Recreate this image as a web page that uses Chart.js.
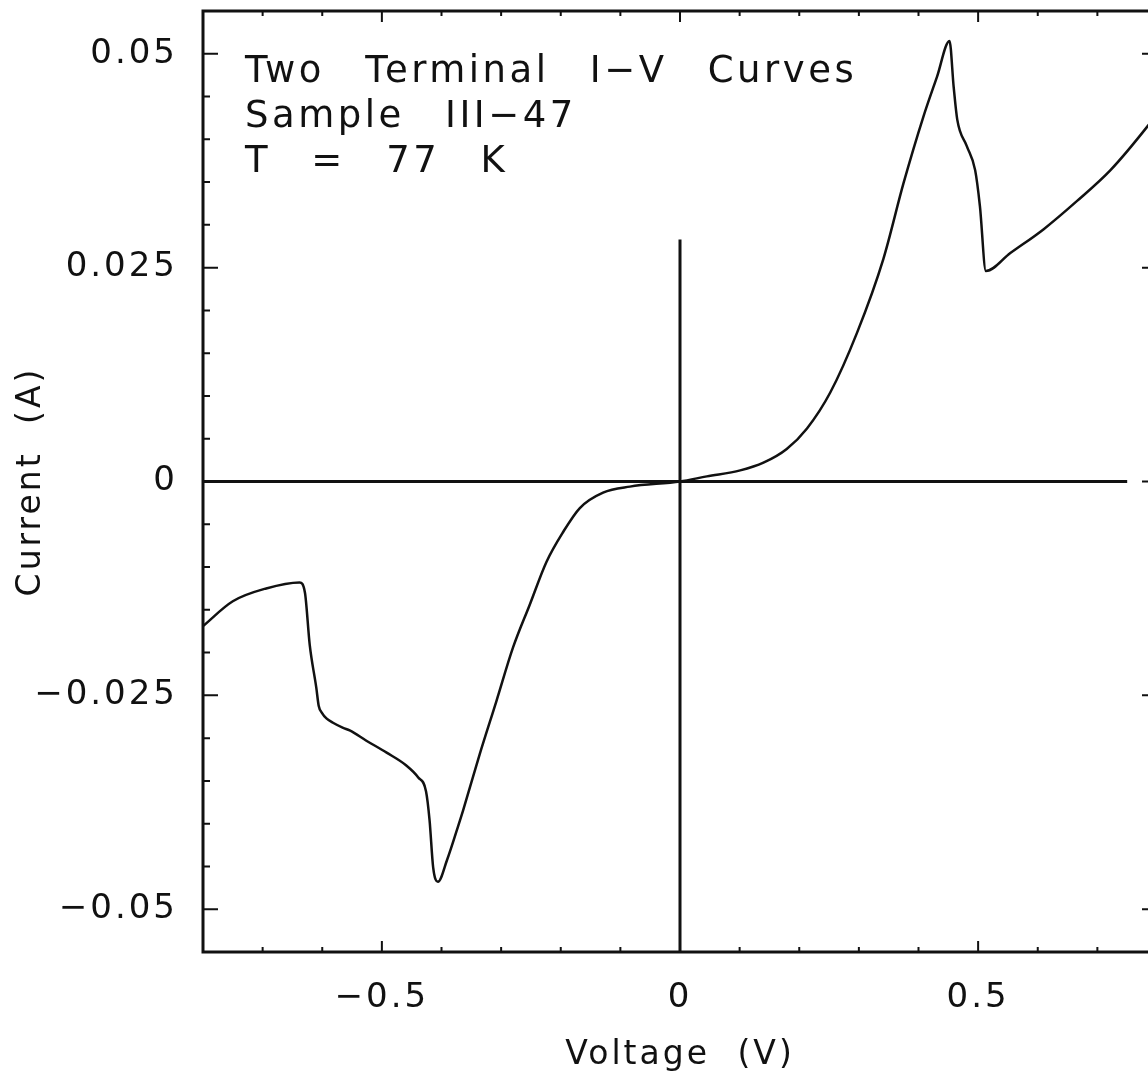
<!DOCTYPE html>
<html>
<head>
<meta charset="utf-8">
<title>Two Terminal I−V Curves</title>
<script src="https://cdn.jsdelivr.net/npm/chart.js@4.4.0/dist/chart.umd.min.js"></script>
<style>
  html, body { margin: 0; padding: 0; background: #fff; overflow: hidden; }
  #wrap { position: relative; width: 1165px; height: 1088px; }
</style>
</head>
<body>
<div id="wrap"><canvas id="ivChart"></canvas></div>
<script>
// I-V sweep for sample III-47 at 77 K
const voltage = [
  -0.800, -0.750, -0.694, -0.638, -0.629, -0.621, -0.610, -0.606, -0.600, -0.593,
  -0.582, -0.565, -0.554, -0.526, -0.492, -0.459, -0.439, -0.426, -0.420, -0.414,
  -0.406, -0.391, -0.369, -0.364, -0.336, -0.308, -0.280, -0.252, -0.224, -0.196,
  -0.168, -0.129, -0.084, 0.000, 0.045, 0.101, 0.140, 0.179, 0.213, 0.252,
  0.297, 0.341, 0.375, 0.408, 0.431, 0.452, 0.459, 0.465, 0.481, 0.495,
  0.503, 0.513, 0.554, 0.610, 0.666, 0.722, 0.785, 0.800
];
const current = [
  -0.0169, -0.0140, -0.0125, -0.0118, -0.0130, -0.0191, -0.0241, -0.0262, -0.0271, -0.0277,
  -0.0282, -0.0288, -0.0291, -0.0303, -0.0317, -0.0332, -0.0346, -0.0362, -0.0396, -0.0451,
  -0.0468, -0.0443, -0.0396, -0.0385, -0.0319, -0.0257, -0.0194, -0.0144, -0.0094, -0.0059,
  -0.0031, -0.0013, -0.0006, 0.0000, 0.0006, 0.0013, 0.0022, 0.0038, 0.0062, 0.0104,
  0.0174, 0.0260, 0.0349, 0.0426, 0.0473, 0.0515, 0.0461, 0.0423, 0.0392, 0.0364,
  0.0322, 0.0246, 0.0267, 0.0295, 0.0328, 0.0364, 0.0416, 0.0430
];

const xTicks = [-0.5, 0, 0.5];
const yTicks = [0.05, 0.025, 0, -0.025, -0.05];

// zero axes through the origin
const hAxisX = [-0.8, 0.75];
const vAxisY = [0.0283, -0.055];

const noteLines = ['Two Terminal I−V Curves', 'Sample III−47', 'T = 77 K'];

const X_MINOR = 0.1;
const Y_MINOR = 0.005;
const INK = '#111';
const FONT = '"DejaVu Sans", sans-serif';

function fmt(v) {
  return (v < 0 ? '\u2212' : '') + String(Math.abs(v));
}

function isMajor(list, v) {
  return list.some(t => Math.abs(t - v) < 1e-9);
}

// wide spacing for all text the chart draws
const spacing = {
  id: 'spacing',
  beforeDraw(chart) {
    chart.ctx.letterSpacing = '3px';
    chart.ctx.wordSpacing = '14px';
  }
};

// boxed frame with inward ticks on all four sides
const frame = {
  id: 'frame',
  afterDatasetsDraw(chart) {
    const { ctx, chartArea: a, scales: { x, y } } = chart;
    ctx.save();
    ctx.strokeStyle = INK;
    ctx.lineWidth = 2;
    ctx.beginPath();
    const nx = Math.round((x.max - x.min) / X_MINOR);
    for (let k = 1; k < nx; k++) {
      const v = x.min + k * X_MINOR;
      const px = x.getPixelForValue(v);
      const len = isMajor(xTicks, v) ? 11 : 5;
      ctx.moveTo(px, a.bottom); ctx.lineTo(px, a.bottom - len);
      ctx.moveTo(px, a.top); ctx.lineTo(px, a.top + len);
    }
    const ny = Math.round((y.max - y.min) / Y_MINOR);
    for (let k = 1; k < ny; k++) {
      const v = y.min + k * Y_MINOR;
      const py = y.getPixelForValue(v);
      const len = isMajor(yTicks, v) ? 15 : 7;
      ctx.moveTo(a.left, py); ctx.lineTo(a.left + len, py);
      ctx.moveTo(a.right, py); ctx.lineTo(a.right - len, py);
    }
    ctx.stroke();
    ctx.lineWidth = 3;
    ctx.strokeRect(a.left, a.top, a.right - a.left, a.bottom - a.top);
    ctx.restore();
  }
};

// sample description in the upper left corner
const note = {
  id: 'note',
  afterDraw(chart) {
    const { ctx, chartArea: a } = chart;
    ctx.save();
    ctx.fillStyle = INK;
    ctx.font = '37px ' + FONT;
    ctx.letterSpacing = '3.5px';
    ctx.wordSpacing = '25px';
    ctx.textAlign = 'left';
    ctx.textBaseline = 'alphabetic';
    noteLines.forEach((line, i) => {
      ctx.fillText(line, a.left + 42, a.top + 71 + i * 45);
    });
    ctx.restore();
  }
};

const ctx = document.getElementById('ivChart').getContext('2d');

new Chart(ctx, {
  type: 'line',
  data: {
    datasets: [
      {
        data: voltage.map((v, i) => ({ x: v, y: current[i] })),
        borderColor: INK,
        borderWidth: 2.5,
        pointRadius: 0,
        cubicInterpolationMode: 'monotone',
        fill: false
      },
      {
        data: hAxisX.map(v => ({ x: v, y: 0 })),
        borderColor: INK,
        borderWidth: 3,
        pointRadius: 0
      },
      {
        data: vAxisY.map(v => ({ x: 0, y: v })),
        borderColor: INK,
        borderWidth: 3,
        pointRadius: 0
      }
    ]
  },
  options: {
    responsive: true,
    maintainAspectRatio: false,
    animation: false,
    layout: { padding: { top: 11, right: 8, left: 0, bottom: 0 } },
    plugins: {
      legend: { display: false },
      tooltip: { enabled: false }
    },
    scales: {
      x: {
        type: 'linear',
        min: -0.8,
        max: 0.8,
        afterBuildTicks: s => { s.ticks = xTicks.map(v => ({ value: v })); },
        afterFit: s => { s.height = 136; s.paddingLeft = 0; s.paddingRight = 0; },
        grid: { display: false, drawTicks: false },
        border: { display: false },
        ticks: {
          color: INK,
          padding: 26,
          maxRotation: 0,
          font: { family: FONT, size: 34 },
          callback: v => fmt(v)
        },
        title: {
          display: true,
          text: 'Voltage (V)',
          color: INK,
          font: { family: FONT, size: 33 },
          padding: { top: 0, bottom: 13 }
        }
      },
      y: {
        type: 'linear',
        min: -0.055,
        max: 0.055,
        afterBuildTicks: s => { s.ticks = yTicks.map(v => ({ value: v })); },
        afterFit: s => { s.width = 203; s.paddingTop = 0; s.paddingBottom = 0; },
        grid: { display: false, drawTicks: false },
        border: { display: false },
        ticks: {
          color: INK,
          padding: 25,
          font: { family: FONT, size: 34 },
          callback: v => fmt(v)
        },
        title: {
          display: true,
          text: 'Current (A)',
          color: INK,
          font: { family: FONT, size: 33 },
          padding: { top: 12, bottom: 0 }
        }
      }
    }
  },
  plugins: [spacing, frame, note]
});
</script>
</body>
</html>
